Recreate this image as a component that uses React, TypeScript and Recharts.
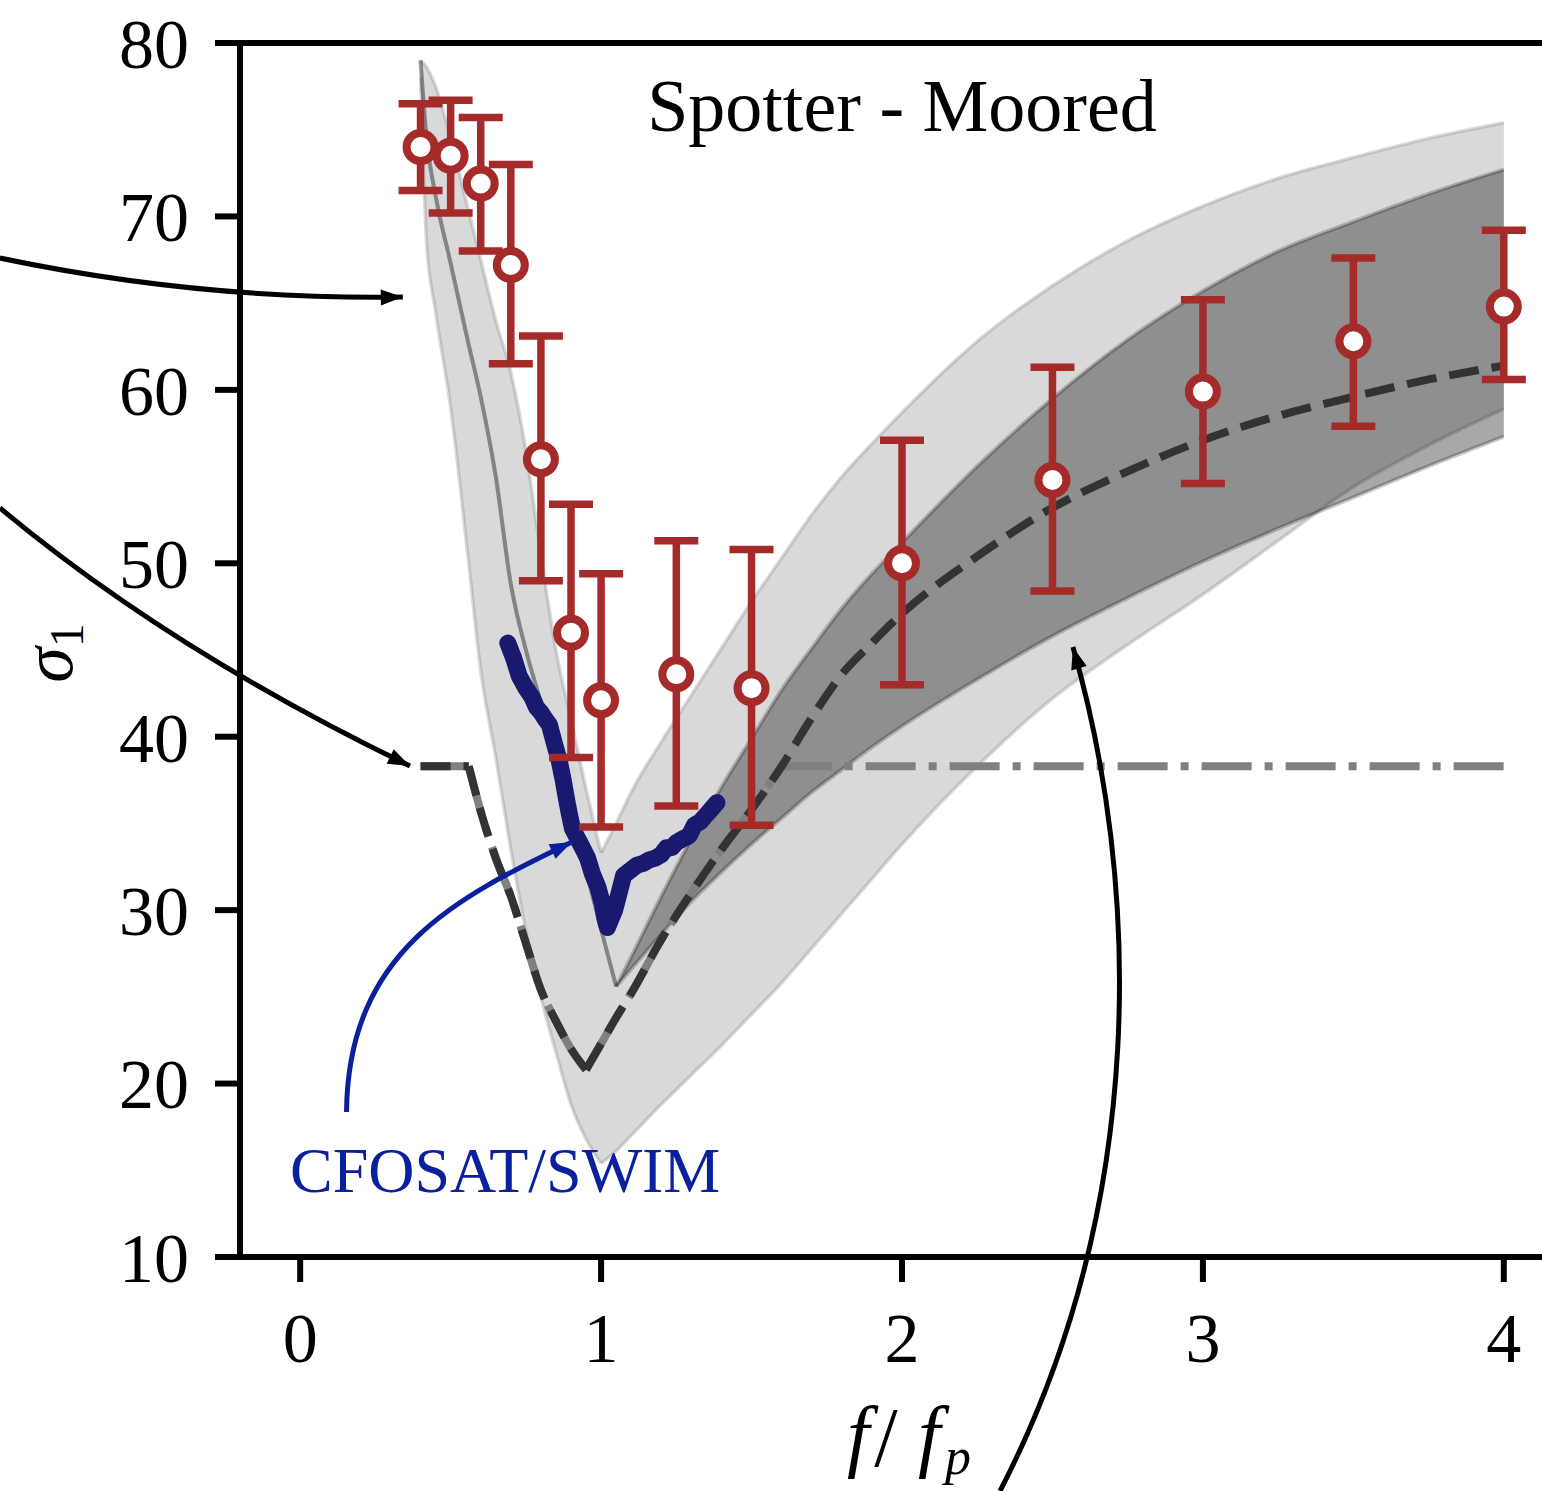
import {
  Area,
  ComposedChart,
  ErrorBar,
  Line,
  ReferenceLine,
  Scatter,
  XAxis,
  YAxis,
} from "recharts";

const SERIF = "'Liberation Serif', 'Times New Roman', serif";

// frequency grid for the model envelopes (f / fp)
const XS = [
  0.4, 0.42, 0.45, 0.5, 0.56, 0.6, 0.65, 0.7, 0.75, 0.8, 0.85, 0.9, 0.95, 1.0, 1.05, 1.1, 1.2, 1.3, 1.4, 1.5,
  1.6, 1.7, 1.8, 1.9, 2.0, 2.25, 2.5, 2.75, 3.0, 3.25, 3.5, 3.75, 4.0,
];

// outer (light) spread
const LIGHT_LO = [
  78.0, 68.5, 64.5, 59.0, 50.0, 43.8, 38.8, 33.5, 28.8, 25.0, 21.8, 18.8, 16.8, 15.4, 16.1, 17.0, 18.8, 20.5,
  22.2, 24.0, 25.8, 27.8, 29.8, 31.8, 33.8, 38.3, 42.2, 45.3, 48.2, 51.3, 54.4, 56.8, 58.9,
];
const LIGHT_HI = [
  79.0, 78.6, 77.5, 74.5, 70.3, 67.5, 64.0, 61.0, 56.5, 50.5, 45.0, 41.0, 37.0, 33.3, 35.0, 36.8, 39.7, 42.4,
  45.1, 47.8, 50.3, 52.8, 55.0, 56.9, 58.7, 62.8, 66.0, 68.6, 70.6, 72.2, 73.4, 74.5, 75.4,
];

// inner (dark) spread
const DARK_LO = [
  79.0, 74.5, 71.2, 67.3, 62.6, 59.6, 55.0, 48.8, 45.0, 42.0, 39.2, 36.0, 32.3, 28.9, 25.6, 26.6, 28.6, 30.5,
  32.2, 33.8, 35.3, 36.8, 38.1, 39.4, 40.6, 43.3, 45.8, 48.0, 50.1, 52.0, 53.8, 55.6, 57.3,
];
const DARK_HI = [
  79.0, 74.5, 71.2, 67.3, 62.6, 59.6, 55.0, 48.8, 45.0, 42.0, 39.2, 36.0, 32.3, 28.9, 25.6, 27.3, 30.8, 34.1,
  37.1, 39.9, 42.7, 45.1, 47.4, 49.4, 51.2, 55.6, 59.5, 62.9, 65.7, 68.0, 69.7, 71.3, 72.7,
];

// model curve (dashed) and its saturated version (dash-dot)
const MODEL = [
  38.3, 38.3, 38.3, 38.3, 38.3, 35.7, 33.0, 30.8, 28.1, 25.4, 23.6, 22.0, 20.8, 22.3, 23.8, 25.2, 28.3, 31.0,
  33.5, 35.8, 38.3, 41.1, 43.6, 45.4, 47.1, 50.4, 53.2, 55.3, 57.1, 58.5, 59.6, 60.6, 61.4,
];
const CAPPED = [
  38.3, 38.3, 38.3, 38.3, 38.3, 35.7, 33.0, 30.8, 28.1, 25.4, 23.6, 22.0, 20.8, 22.3, 23.8, 25.2, 28.3, 31.0,
  33.5, 35.8, 38.3, 38.3, 38.3, 38.3, 38.3, 38.3, 38.3, 38.3, 38.3, 38.3, 38.3, 38.3, 38.3,
];

// CFOSAT/SWIM spreading
const SWIM_X = [
  0.69, 0.71, 0.728, 0.75, 0.77, 0.785, 0.8, 0.815, 0.828, 0.845, 0.861, 0.874, 0.884, 0.895, 0.905, 0.92,
  0.938, 0.955, 0.971, 0.99, 1.004, 1.013, 1.021, 1.033, 1.045, 1.06, 1.075, 1.09, 1.105, 1.12, 1.14, 1.16,
  1.18, 1.2, 1.217, 1.235, 1.25, 1.27, 1.293, 1.31, 1.33, 1.35, 1.37, 1.385,
];
const SWIM_Y = [
  45.4, 44.5, 43.5, 42.8, 42.3, 41.7, 41.4, 41.0, 40.7, 39.6, 38.6, 37.5, 36.5, 35.5, 34.7, 34.2, 33.6, 33.0,
  32.1, 31.3, 30.4, 29.5, 29.0, 29.5, 30.0, 31.0, 32.0, 32.2, 32.4, 32.6, 32.7, 32.9, 33.0, 33.2, 33.6, 33.6,
  33.9, 34.1, 34.3, 34.9, 35.1, 35.5, 35.9, 36.2,
];

// Spotter buoy, moored
const BUOY_X = [0.4, 0.5, 0.6, 0.7, 0.8, 0.9, 1.0, 1.25, 1.5, 2.0, 2.5, 3.0, 3.5, 4.0];
const BUOY_MEAN = [74.0, 73.5, 71.9, 67.2, 56.0, 46.0, 42.1, 43.6, 42.8, 50.0, 54.8, 59.9, 62.8, 64.8];
const BUOY_LOW = [71.5, 70.2, 68.0, 61.5, 49.0, 38.8, 34.8, 36.0, 34.9, 43.0, 48.4, 54.6, 57.9, 60.6];
const BUOY_HIGH = [76.5, 76.7, 75.7, 73.0, 63.1, 53.4, 49.4, 51.3, 50.8, 57.1, 61.3, 65.2, 67.6, 69.2];

const X_TICKS = [0, 1, 2, 3, 4];
const Y_TICKS = [10, 20, 30, 40, 50, 60, 70, 80];
const X_DOMAIN: [number, number] = [-0.2, 4.2];
const Y_DOMAIN: [number, number] = [10, 80];

// where the curves change direction; each piece is smoothed on its own so the corners stay sharp
const LIGHT_BREAKS = [0.4, 1.0, 4.0];
const DARK_BREAKS = [0.4, 1.05, 4.0];
const MODEL_BREAKS = [0.4, 0.56, 0.95, 4.0];
const CAPPED_BREAKS = [0.4, 0.56, 0.95, 1.6, 4.0];

const bandRows = XS.map((x, i) => ({
  x,
  light: [LIGHT_LO[i], LIGHT_HI[i]],
  dark: [DARK_LO[i], DARK_HI[i]],
  model: MODEL[i],
  capped: CAPPED[i],
}));
type BandRow = (typeof bandRows)[number];

const pieces = (breaks: number[]): BandRow[][] =>
  breaks.slice(1).map((hi, k) => bandRows.filter((r) => r.x >= breaks[k] - 1e-9 && r.x <= hi + 1e-9));

const swimRows = SWIM_X.map((x, i) => ({ x, y: SWIM_Y[i] }));
const buoyRows = BUOY_X.map((x, i) => ({
  x,
  y: BUOY_MEAN[i],
  err: [BUOY_MEAN[i] - BUOY_LOW[i], BUOY_HIGH[i] - BUOY_MEAN[i]],
}));

// layout
const W = 1600;
const H = 1491;
const MARGIN = { top: 43, right: 36, bottom: 0, left: 0 };
const Y_AXIS_W = 240;
const X_AXIS_H = 234;
const PLOT_L = MARGIN.left + Y_AXIS_W;
const PLOT_T = MARGIN.top;
const PLOT_W = W - PLOT_L - MARGIN.right;
const PLOT_H = H - PLOT_T - X_AXIS_H - MARGIN.bottom;

const sx = (x: number) => PLOT_L + ((x - X_DOMAIN[0]) / (X_DOMAIN[1] - X_DOMAIN[0])) * PLOT_W;
const sy = (y: number) => PLOT_T + ((Y_DOMAIN[1] - y) / (Y_DOMAIN[1] - Y_DOMAIN[0])) * PLOT_H;

const BROWN = "#a52a2a";
const SWIM_BLUE = "#0a209c";

// annotation arrows, control points in data units
const ARROWS: { pts: [number, number][]; color: string }[] = [
  { pts: [[-0.998, 67.6], [-0.333, 65.18], [0.341, 65.35]], color: "#000" },
  { pts: [[-0.998, 53.19], [-0.433, 45.0], [0.365, 38.31]], color: "#000" },
  { pts: [[0.154, 18.36], [0.159, 27.7], [0.524, 30.76], [0.903, 33.93]], color: SWIM_BLUE },
  { pts: [[2.326, -3.49], [2.824, 13.29], [2.79, 31.74], [2.568, 45.17]], color: "#000" },
];

function Arrow({ pts, color }: { pts: [number, number][]; color: string }) {
  const p = pts.map(([x, y]) => [sx(x), sy(y)]);
  const d =
    p.length === 3
      ? `M${p[0]} Q${p[1]} ${p[2]}`
      : `M${p[0]} C${p[1]} ${p[2]} ${p[3]}`;
  const tip = p[p.length - 1];
  const prev = p[p.length - 2];
  const a = Math.atan2(tip[1] - prev[1], tip[0] - prev[0]);
  const len = 22;
  const half = 8;
  const bx = tip[0] - len * Math.cos(a);
  const by = tip[1] - len * Math.sin(a);
  const head = [
    tip,
    [bx + half * Math.sin(a), by - half * Math.cos(a)],
    [bx - half * Math.sin(a), by + half * Math.cos(a)],
  ]
    .map((q) => q.join(","))
    .join(" ");
  return (
    <g>
      <path d={d} fill="none" stroke={color} strokeWidth={5} />
      <polygon points={head} fill={color} />
    </g>
  );
}

function Ring(props: any) {
  const { cx, cy } = props;
  if (cx == null || cy == null) return null;
  return <circle cx={cx} cy={cy} r={14} fill="#fff" stroke={BROWN} strokeWidth={8} />;
}

const tickStyle = { fill: "#000", fontSize: 70, fontFamily: SERIF };
const spine = { stroke: "#000", strokeWidth: 6 };

export default function App() {
  return (
    <div
      style={{
        position: "absolute",
        left: 0,
        top: 0,
        width: 1542,
        height: 1491,
        overflow: "hidden",
        background: "#fff",
      }}
    >
      <div style={{ position: "relative", width: W, height: H }}>
        <ComposedChart width={W} height={H} data={bandRows} margin={MARGIN}>
          <XAxis
            type="number"
            dataKey="x"
            domain={X_DOMAIN}
            ticks={X_TICKS}
            allowDataOverflow
            interval={0}
            height={X_AXIS_H}
            tickSize={25}
            tickMargin={30}
            axisLine={spine}
            tickLine={spine}
            tick={tickStyle}
          />
          <YAxis
            type="number"
            domain={Y_DOMAIN}
            ticks={Y_TICKS}
            allowDataOverflow
            interval={0}
            width={Y_AXIS_W}
            tickSize={25}
            tickMargin={26}
            axisLine={spine}
            tickLine={spine}
            tick={tickStyle}
          />
          <ReferenceLine y={80} stroke="#000" strokeWidth={6} />
          {pieces(LIGHT_BREAKS).map((rows, k) => (
            <Area
              key={`light-${k}`}
              data={rows}
              dataKey="light"
              type="monotone"
              fill="#808080"
              fillOpacity={0.3}
              stroke="#808080"
              strokeOpacity={0.3}
              strokeWidth={3.5}
              dot={false}
              activeDot={false}
              isAnimationActive={false}
            />
          ))}
          {pieces(DARK_BREAKS).map((rows, k) => (
            <Area
              key={`dark-${k}`}
              data={rows}
              dataKey="dark"
              type="monotone"
              fill="#000"
              fillOpacity={0.34}
              stroke="#000"
              strokeOpacity={0.22}
              strokeWidth={4}
              dot={false}
              activeDot={false}
              isAnimationActive={false}
            />
          ))}
          {pieces(CAPPED_BREAKS).map((rows, k) => (
            <Line
              key={`capped-${k}`}
              data={rows}
              dataKey="capped"
              type="monotone"
              stroke="#808080"
              strokeWidth={8}
              strokeDasharray="50 13 8 13"
              dot={false}
              activeDot={false}
              isAnimationActive={false}
            />
          ))}
          {pieces(MODEL_BREAKS).map((rows, k) => (
            <Line
              key={`model-${k}`}
              data={rows}
              dataKey="model"
              type="monotone"
              stroke="#333"
              strokeWidth={8}
              strokeDasharray="30 13"
              dot={false}
              activeDot={false}
              isAnimationActive={false}
            />
          ))}
          <Line
            data={swimRows}
            dataKey="y"
            type="linear"
            stroke="#191970"
            strokeWidth={17}
            strokeLinejoin="round"
            strokeLinecap="round"
            dot={false}
            activeDot={false}
            isAnimationActive={false}
          />
          <Scatter data={buoyRows} dataKey="y" shape={Ring} isAnimationActive={false}>
            <ErrorBar dataKey="err" direction="y" width={22} stroke={BROWN} strokeWidth={7.5} />
          </Scatter>
        </ComposedChart>
        <svg
          width={W}
          height={H}
          style={{ position: "absolute", left: 0, top: 0, pointerEvents: "none" }}
        >
          {ARROWS.map((a, i) => (
            <Arrow key={i} pts={a.pts} color={a.color} />
          ))}
          <text x={sx(2.0)} y={sy(74.9)} textAnchor="middle" fontFamily={SERIF} fontSize={74} fill="#000">
            Spotter - Moored
          </text>
          <text x={sx(-0.034)} y={sy(13.75)} fontFamily={SERIF} fontSize={64} fill={SWIM_BLUE}>
            CFOSAT/SWIM
          </text>
          <text transform="translate(72, 653) rotate(-90)" textAnchor="middle" fontFamily={SERIF} fill="#000">
            <tspan fontSize={72} fontStyle="italic">σ</tspan>
            <tspan fontSize={48} dy={11}>1</tspan>
          </text>
          <g fontFamily={SERIF} fill="#000" textAnchor="middle">
            <text x={858} y={1462} fontSize={80} fontStyle="italic">f</text>
            <text x={886} y={1466} fontSize={84}>/</text>
            <text x={929} y={1462} fontSize={80} fontStyle="italic">f</text>
            <text x={958} y={1474} fontSize={52} fontStyle="italic">p</text>
          </g>
        </svg>
      </div>
    </div>
  );
}
